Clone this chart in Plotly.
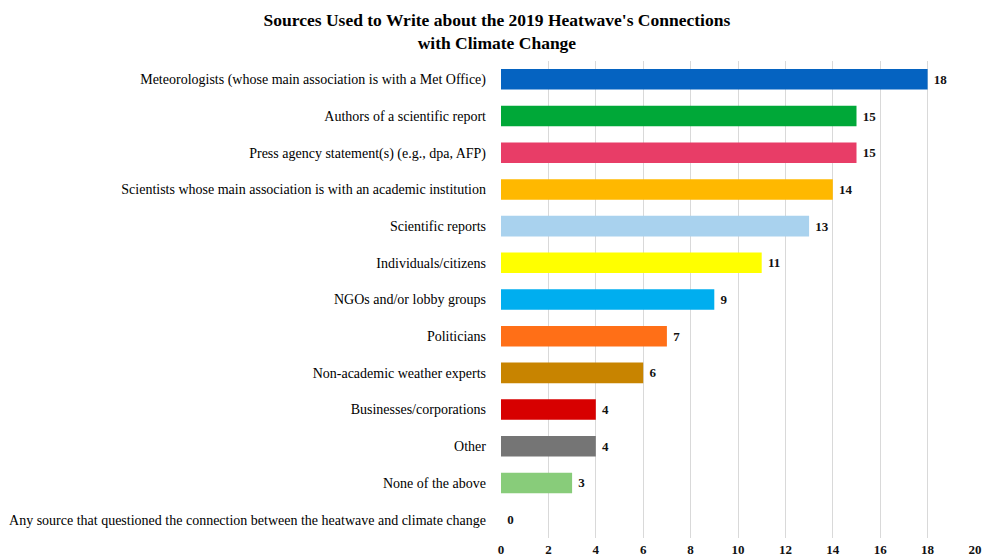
import plotly.graph_objects as go

# Source categories, top to bottom
categories = [
    "Meteorologists (whose main association is with a Met Office)",
    "Authors of a scientific report",
    "Press agency statement(s) (e.g., dpa, AFP)",
    "Scientists whose main association is with an academic institution",
    "Scientific reports",
    "Individuals/citizens",
    "NGOs and/or lobby groups",
    "Politicians",
    "Non-academic weather experts",
    "Businesses/corporations",
    "Other",
    "None of the above",
    "Any source that questioned the connection between the heatwave and climate change",
]
counts = [18, 15, 15, 14, 13, 11, 9, 7, 6, 4, 4, 3, 0]
bar_colors = [
    "#0563C1", "#00A838", "#E83D67", "#FFB800", "#A9D2EE", "#FFFF00",
    "#00AEEF", "#FF6F17", "#C88400", "#D70000", "#757575", "#88CC7A", "#FFFFFF",
]
x_ticks = list(range(0, 21, 2))

fig = go.Figure(
    go.Bar(
        x=counts,
        y=categories,
        orientation="h",
        marker=dict(color=bar_colors, line=dict(width=0)),
        # leading space keeps the value a few pixels clear of the bar end
        text=[" " + str(v) for v in counts],
        textposition="outside",
        textfont=dict(family="Liberation Serif", size=13, color="#111111", weight="bold"),
        cliponaxis=False,
        width=0.56,
    )
)

fig.update_layout(
    width=984,
    height=559,
    margin=dict(l=501, r=9, t=61, b=21, autoexpand=False),
    paper_bgcolor="white",
    plot_bgcolor="white",
    showlegend=False,
    title=dict(
        text="Sources Used to Write about the 2019 Heatwave's Connections<br>with Climate Change",
        x=0.505,
        xanchor="center",
        yref="container",
        y=0.953,
        yanchor="middle",
        font=dict(family="Liberation Serif", size=17.5, color="#000000", weight="bold"),
    ),
    xaxis=dict(
        range=[0, 20],
        tickvals=x_ticks,
        ticktext=[str(t) for t in x_ticks],
        showgrid=True,
        gridcolor="#D9D9D9",
        gridwidth=1,
        zeroline=False,
        showline=False,
        ticks="",
        automargin=False,
        tickfont=dict(family="Liberation Serif", size=13, color="#111111", weight="bold"),
        ticklabelstandoff=2,
    ),
    yaxis=dict(
        categoryorder="array",
        categoryarray=categories[::-1],
        autorange=False,
        range=[-0.5, len(categories) - 0.5],
        showgrid=False,
        zeroline=False,
        showline=False,
        ticks="",
        automargin=False,
        ticklabelstandoff=14,
        tickfont=dict(family="Liberation Serif", size=14, color="#000000"),
    ),
)

fig.write_html("out.html")
